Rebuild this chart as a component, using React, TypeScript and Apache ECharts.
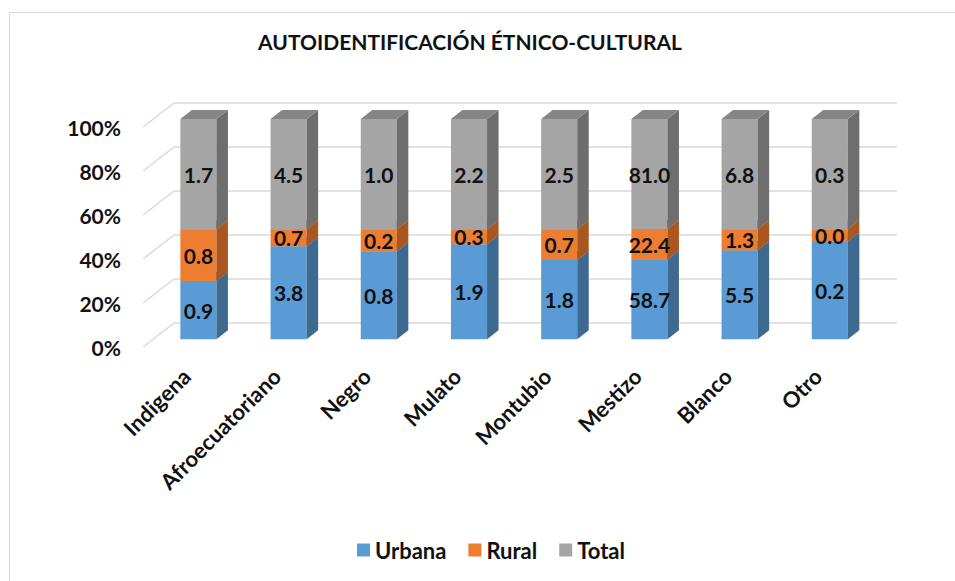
import React, { useEffect, useRef } from "react";
import * as echarts from "echarts";

const categories = ["Indigena", "Afroecuatoriano", "Negro", "Mulato", "Montubio", "Mestizo", "Blanco", "Otro"];
const urbana = [0.9, 3.8, 0.8, 1.9, 1.8, 58.7, 5.5, 0.24];
const rural = [0.8, 0.7, 0.2, 0.3, 0.7, 22.4, 1.3, 0.03];
const total = [1.7, 4.5, 1.0, 2.2, 2.5, 81.0, 6.8, 0.27];
const percentTicks = [0, 20, 40, 60, 80, 100];
const seriesNames = ["Urbana", "Rural", "Total"];

const FONT = "Lato";
const DX = 11.5;
const DY = -9;

const palettes = [
  { front: "#5B9BD5", side: "#3E6A92", top: "#4C84B8" },
  { front: "#ED7D31", side: "#A9561F", top: "#C9682A" },
  { front: "#A5A5A5", side: "#6E6E6E", top: "#858585" },
];

function buildStacks() {
  const all = [urbana, rural, total];
  return all.map((arr, s) =>
    arr.map((v, i) => {
      const sum = urbana[i] + rural[i] + total[i];
      let start = 0;
      for (let k = 0; k < s; k++) start += (all[k][i] / sum) * 100;
      const end = start + (v / sum) * 100;
      return [i, start, end, v];
    })
  );
}

export default function App() {
  const ref = useRef<HTMLDivElement>(null);
  useEffect(() => {
    if (!ref.current) return;
    const chart = echarts.init(ref.current, undefined, { renderer: "svg" });
    const stacks = buildStacks();

    const barSeries = stacks.map((data, s) => ({
      type: "custom",
      name: seriesNames[s],
      xAxisIndex: 0,
      yAxisIndex: 0,
      z: 3,
      itemStyle: { color: palettes[s].front },
      data,
      renderItem: (params: any, api: any) => {
        const idx = api.value(0);
        const p0 = api.coord([idx, api.value(1)]);
        const p1 = api.coord([idx, api.value(2)]);
        const band = api.size([1, 0])[0];
        const w = band * 0.4;
        const x0 = p0[0] - w / 2;
        const x1 = x0 + w;
        const yb = p0[1];
        const yt = p1[1];
        const pal = palettes[s];
        return {
          type: "group",
          children: [
            { type: "rect", shape: { x: x0, y: yt, width: w, height: yb - yt }, style: { fill: pal.front } },
            {
              type: "polygon",
              shape: { points: [[x1, yb], [x1 + DX, yb + DY], [x1 + DX, yt + DY], [x1, yt]] },
              style: { fill: pal.side },
            },
            {
              type: "polygon",
              shape: { points: [[x0, yt], [x0 + DX, yt + DY], [x1 + DX, yt + DY], [x1, yt]] },
              style: { fill: pal.top },
            },
          ],
        };
      },
    }));

    const labelSeries = stacks.map((data, s) => ({
      type: "custom",
      name: "lbl" + s,
      xAxisIndex: 0,
      yAxisIndex: 0,
      z: 10,
      data,
      renderItem: (params: any, api: any) => {
        const idx = api.value(0);
        const mid = (api.value(1) + api.value(2)) / 2;
        const p = api.coord([idx, mid]);
        return {
          type: "text",
          style: {
            text: Number(api.value(3)).toFixed(1),
            x: p[0],
            y: p[1],
            align: "center",
            verticalAlign: "middle",
            fill: "#111111",
            font: `bold 21px ${FONT}`,
          },
        };
      },
    }));

    const diagSeries = {
      type: "custom",
      name: "diag",
      xAxisIndex: 2,
      yAxisIndex: 2,
      z: 1,
      data: percentTicks.map((t) => [0, t]),
      renderItem: (params: any, api: any) => {
        const p = api.coord([0, api.value(1)]);
        return {
          type: "line",
          shape: { x1: p[0], y1: p[1], x2: p[0] + 31, y2: p[1] - 24 },
          style: { stroke: "#D9D9D9", lineWidth: 1.5 },
        };
      },
    };

    chart.setOption({
      animation: false,
      textStyle: { fontFamily: FONT },
      graphic: [
        {
          type: "rect",
          shape: { x: 9.5, y: 12.5, width: 1000, height: 700 },
          style: { fill: "none", stroke: "#D9D9D9", lineWidth: 1 },
          silent: true,
        },
        {
          type: "text",
          x: 470,
          y: 41,
          style: {
            text: "AUTOIDENTIFICACIÓN ÉTNICO-CULTURAL",
            align: "center",
            verticalAlign: "middle",
            font: `bold 21px ${FONT}`,
            fill: "#111111",
          },
        },
      ],
      legend: {
        data: seriesNames,
        left: 357,
        top: 539,
        padding: 0,
        icon: "rect",
        itemWidth: 13,
        itemHeight: 13,
        itemGap: 22,
        textStyle: { fontFamily: FONT, fontWeight: "bold", fontSize: 22, color: "#111111" },
      },
      grid: [
        { left: 153.3, top: 119, width: 721.6, height: 220.3 },
        { left: 174, top: 103, width: 723, height: 220 },
        { left: 143, top: 127, width: 10, height: 220 },
      ],
      xAxis: [
        {
          type: "category",
          gridIndex: 0,
          data: categories,
          axisLine: { show: false },
          axisTick: { show: false },
          axisLabel: {
            rotate: 45,
            margin: 21,
            interval: 0,
            padding: [0, 17, 0, 0],
            fontFamily: FONT,
            fontWeight: "bold",
            fontSize: 22,
            color: "#111111",
          },
        },
        { type: "value", gridIndex: 1, show: false, min: 0, max: 1 },
        { type: "value", gridIndex: 2, show: false, min: 0, max: 1 },
      ],
      yAxis: [
        { type: "value", gridIndex: 0, min: 0, max: 100, show: false },
        {
          type: "value",
          gridIndex: 1,
          min: 0,
          max: 100,
          interval: 20,
          axisLine: { show: false },
          axisTick: { show: false },
          axisLabel: { show: false },
          splitLine: { show: true, lineStyle: { color: "#D9D9D9", width: 1.5 } },
        },
        {
          type: "value",
          gridIndex: 2,
          min: 0,
          max: 100,
          interval: 20,
          axisLine: { show: false },
          axisTick: { show: false },
          splitLine: { show: false },
          axisLabel: {
            formatter: "{value}%",
            margin: 22,
            fontFamily: FONT,
            fontWeight: "bold",
            fontSize: 21,
            color: "#111111",
          },
        },
      ],
      series: [...barSeries, ...labelSeries, diagSeries],
    });
    return () => chart.dispose();
  }, []);
  return (
    <div
      ref={ref}
      style={{ position: "absolute", left: 0, top: 0, width: 955, height: 581 }}
    />
  );
}
